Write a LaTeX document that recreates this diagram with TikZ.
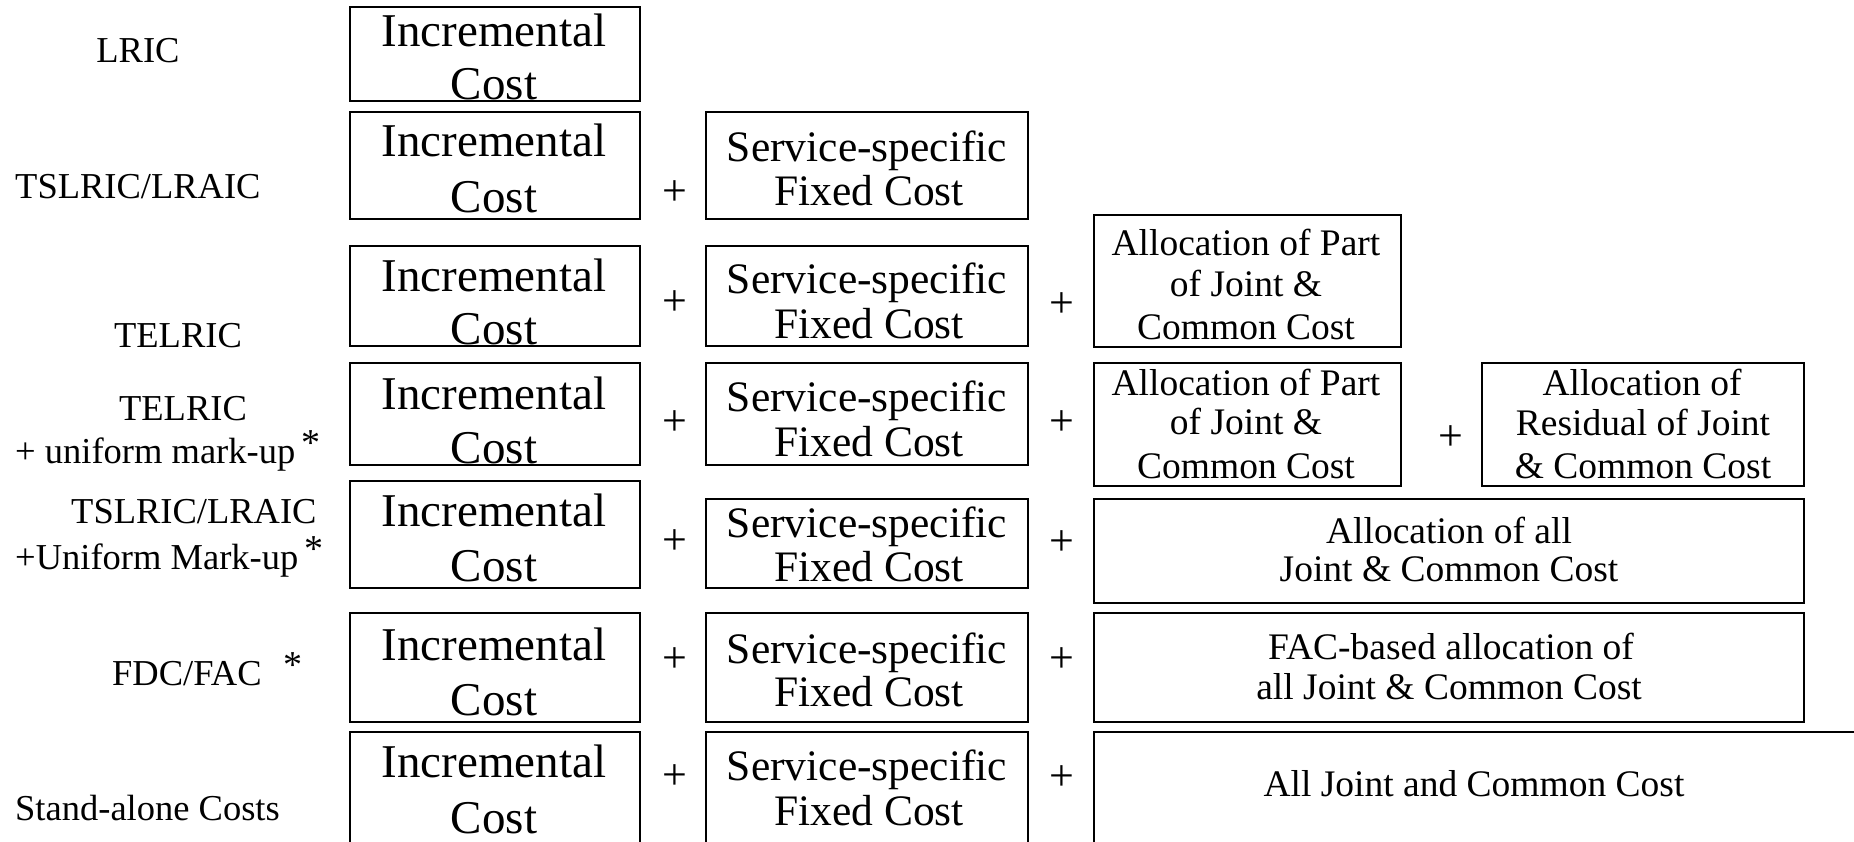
\documentclass[tikz,border=0pt]{standalone}
\usepackage{fontspec}
\setmainfont{Liberation Serif}
\begin{document}
\begin{tikzpicture}[x=1pt,y=-1pt,
  box/.style={draw=black, line width=1.6pt, inner sep=0pt, outer sep=0pt, rectangle},
  inct/.style={font=\fontsize{47}{47}\selectfont, anchor=base, inner sep=0pt},
  svct/.style={font=\fontsize{43.5}{43.5}\selectfont, anchor=base, inner sep=0pt},
  alct/.style={font=\fontsize{37.5}{37.5}\selectfont, anchor=base, inner sep=0pt},
  lblt/.style={font=\fontsize{36.5}{36.5}\selectfont, inner sep=0pt},
  plus/.style={font=\fontsize{44}{44}\selectfont, inner sep=0pt},
]
\newcommand\astk{\raisebox{8pt}{\fontsize{38}{38}\selectfont *}}
\useasboundingbox (0,0) rectangle (1854,842);
\clip (0,0) rectangle (1854,842);

% ---------- Incremental cost boxes ----------
\node[box, minimum width=290, minimum height=94]  (inc1) at (495,54)    {};
\node[box, minimum width=290, minimum height=107] (inc2) at (495,165.5) {};
\node[box, minimum width=290, minimum height=100] (inc3) at (495,296)   {};
\node[box, minimum width=290, minimum height=102] (inc4) at (495,414)   {};
\node[box, minimum width=290, minimum height=107] (inc5) at (495,534.5) {};
\node[box, minimum width=290, minimum height=109] (inc6) at (495,667.5) {};
\node[box, minimum width=290, minimum height=128] (inc7) at (495,796)   {};

\node[inct] (inc1a) at (494,47)  {Incremental}; \node[inct] (inc1b) at (494,100) {Cost};
\node[inct] (inc2a) at (494,157) {Incremental}; \node[inct] (inc2b) at (494,213) {Cost};
\node[inct] (inc3a) at (494,291) {Incremental}; \node[inct] (inc3b) at (494,344) {Cost};
\node[inct] (inc4a) at (494,409) {Incremental}; \node[inct] (inc4b) at (494,463) {Cost};
\node[inct] (inc5a) at (494,526) {Incremental}; \node[inct] (inc5b) at (494,581) {Cost};
\node[inct] (inc6a) at (494,660) {Incremental}; \node[inct] (inc6b) at (494,715) {Cost};
\node[inct] (inc7a) at (494,777) {Incremental}; \node[inct] (inc7b) at (494,833) {Cost};

% ---------- Service-specific boxes ----------
\node[box, minimum width=322, minimum height=107] (svc2) at (867,165.5) {};
\node[box, minimum width=322, minimum height=100] (svc3) at (867,296)   {};
\node[box, minimum width=322, minimum height=102] (svc4) at (867,414)   {};
\node[box, minimum width=322, minimum height=89]  (svc5) at (867,543.5) {};
\node[box, minimum width=322, minimum height=109] (svc6) at (867,667.5) {};
\node[box, minimum width=322, minimum height=128] (svc7) at (867,796)   {};

\node[svct] (svc2a) at (867,162) {Service-specific}; \node[svct] (svc2b) at (869,206) {Fixed Cost};
\node[svct] (svc3a) at (867,294) {Service-specific}; \node[svct] (svc3b) at (869,338) {Fixed Cost};
\node[svct] (svc4a) at (867,411) {Service-specific}; \node[svct] (svc4b) at (869,456) {Fixed Cost};
\node[svct] (svc5a) at (867,537) {Service-specific}; \node[svct] (svc5b) at (869,581) {Fixed Cost};
\node[svct] (svc6a) at (867,663) {Service-specific}; \node[svct] (svc6b) at (869,706) {Fixed Cost};
\node[svct] (svc7a) at (867,780) {Service-specific}; \node[svct] (svc7b) at (869,825) {Fixed Cost};

% ---------- Joint & common cost boxes ----------
\node[box, minimum width=307, minimum height=132] (al3) at (1247.5,281)   {};
\node[box, minimum width=307, minimum height=123] (al4) at (1247.5,424.5) {};
\node[box, minimum width=322, minimum height=123] (rs4) at (1643,424.5)   {};
\node[box, minimum width=710, minimum height=104] (al5) at (1449,551)     {};
\node[box, minimum width=710, minimum height=109] (al6) at (1449,667.5)   {};
\node[box, minimum width=776, minimum height=128] (al7) at (1482,796)     {};

\node[alct] (al3a) at (1246,256) {Allocation of Part};
\node[alct] (al3b) at (1246,296) {of Joint \&};
\node[alct] (al3c) at (1246,339) {Common Cost};
\node[alct] (al4a) at (1246,395) {Allocation of Part};
\node[alct] (al4b) at (1246,434) {of Joint \&};
\node[alct] (al4c) at (1246,478) {Common Cost};
\node[alct] (rs4a) at (1642,395) {Allocation of};
\node[alct] (rs4b) at (1643,435) {Residual of Joint};
\node[alct] (rs4c) at (1643,478) {\& Common Cost};
\node[alct] (al5a) at (1449,543) {Allocation of all};
\node[alct] (al5b) at (1449,581) {Joint \& Common Cost};
\node[alct] (al6a) at (1451,659) {FAC-based allocation of};
\node[alct] (al6b) at (1449,699) {all Joint \& Common Cost};
\node[alct] (al7a) at (1474,796) {All Joint and Common Cost};

% ---------- plus signs ----------
\node[plus] (p2a) at (675,193) {+};
\node[plus] (p3a) at (675,303) {+};  \node[plus] (p3b) at (1062,305) {+};
\node[plus] (p4a) at (675,423) {+};  \node[plus] (p4b) at (1062,423) {+};
\node[plus] (p4c) at (1451,438) {+};
\node[plus] (p5a) at (675,542) {+};  \node[plus] (p5b) at (1062,543) {+};
\node[plus] (p6a) at (675,660) {+};  \node[plus] (p6b) at (1062,660) {+};
\node[plus] (p7a) at (675,777) {+};  \node[plus] (p7b) at (1062,778) {+};

% ---------- row labels ----------
\node[lblt, anchor=base]      (lab1)  at (138,63)  {LRIC};
\node[lblt, anchor=base west] (lab2)  at (15,199)  {TSLRIC/LRAIC};
\node[lblt, anchor=base]      (lab3)  at (178,347) {TELRIC};
\node[lblt, anchor=base]      (lab4a) at (183,420) {TELRIC};
\node[lblt, anchor=base west] (lab4b) at (15,463)  {+ uniform mark-up\,\astk};
\node[lblt, anchor=base west] (lab5a) at (71,523)  {TSLRIC/LRAIC};
\node[lblt, anchor=base west] (lab5b) at (15,569)  {+Uniform Mark-up\,\astk};
\node[lblt, anchor=base west] (lab6)  at (112,685) {FDC/FAC\hspace{22pt}\astk};
\node[lblt, anchor=base west] (lab7)  at (15,820)  {Stand-alone Costs};
\end{tikzpicture}
\end{document}
